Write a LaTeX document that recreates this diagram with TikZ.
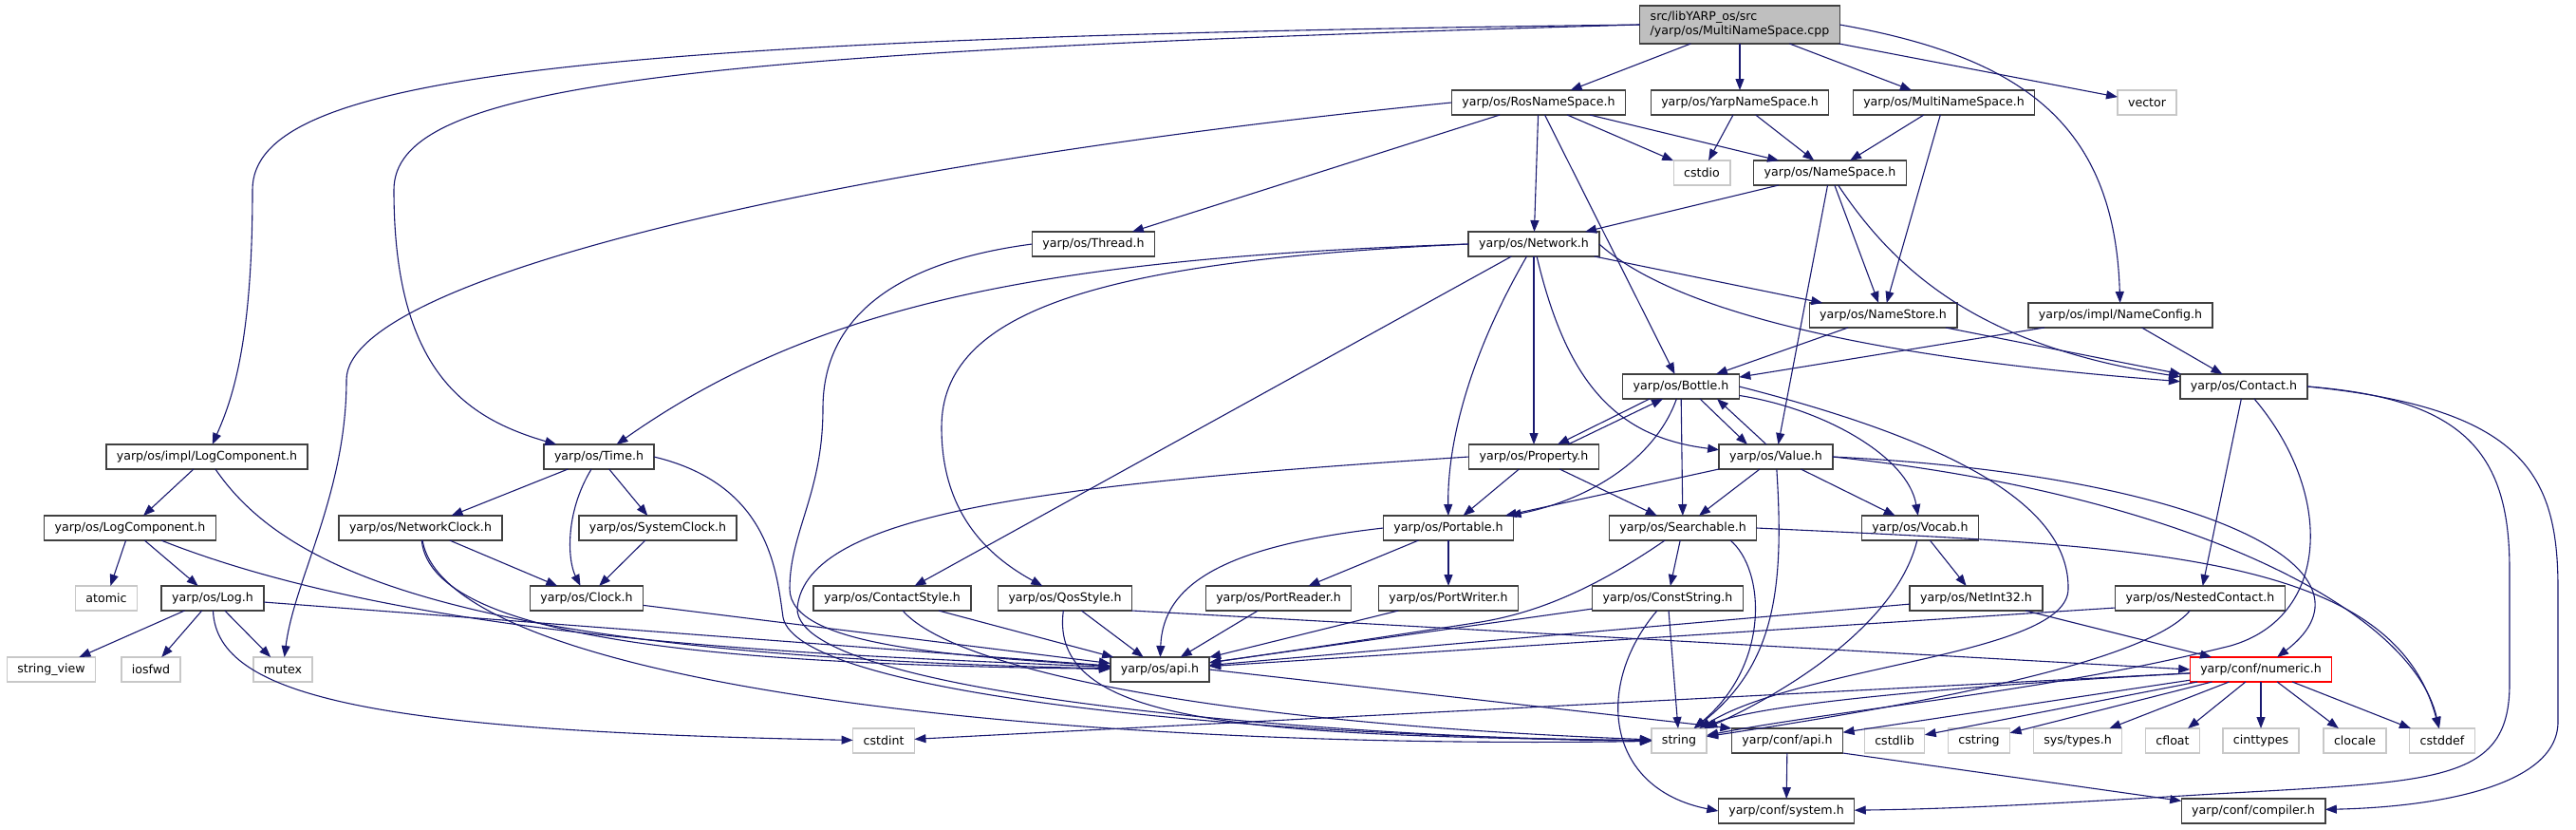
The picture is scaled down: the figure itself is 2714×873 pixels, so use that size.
\documentclass[tikz,border=0pt]{standalone}
\usepackage{fontspec}
\setmainfont{DejaVu Sans}
\usetikzlibrary{arrows.meta}
\definecolor{edgeblue}{RGB}{25,25,112}
\definecolor{rootgray}{RGB}{191,191,191}
\definecolor{framegray}{RGB}{64,64,64}
\definecolor{syslight}{RGB}{200,200,200}

\begin{document}
\begin{tikzpicture}[
    x=1pt, y=-1pt,
    font=\fontsize{12.6}{15}\selectfont,
    hdr/.style={draw=framegray, line width=1.4pt, fill=white, minimum height=26pt, inner xsep=11pt, inner ysep=2pt, outer sep=0pt},
    sys/.style={hdr, draw=syslight},
    rootbox/.style={hdr, fill=rootgray, align=left, minimum height=40pt},
    trunc/.style={hdr, draw=red},
    dep/.style={-{Triangle[length=12pt, width=9pt]}, edgeblue, line width=1.1pt}
]
    \path[use as bounding box, fill=white] (0,0) rectangle (2714,873);

    % source file
    \node[rootbox] (root) at (1833,26) {src/libYARP\_os/src\\/yarp/os/MultiNameSpace.cpp};

    % first level
    \node[hdr] (rosns) at (1621,108) {yarp/os/RosNameSpace.h};
    \node[hdr] (yarpns) at (1833,108) {yarp/os/YarpNameSpace.h};
    \node[hdr] (multins) at (2048,108) {yarp/os/MultiNameSpace.h};
    \node[sys] (vector) at (2262,108) {vector};
    \node[sys] (cstdio) at (1793,182) {cstdio};
    \node[hdr] (namespace) at (1928,182) {yarp/os/NameSpace.h};
    \node[hdr] (thread) at (1152,257) {yarp/os/Thread.h};
    \node[hdr] (network) at (1616,257) {yarp/os/Network.h};
    \node[hdr] (namestore) at (1984,332) {yarp/os/NameStore.h};
    \node[hdr] (nameconfig) at (2234,332) {yarp/os/impl/NameConfig.h};
    \node[hdr] (bottle) at (1771,407) {yarp/os/Bottle.h};
    \node[hdr] (contact) at (2364,407) {yarp/os/Contact.h};

    % middle rows
    \node[hdr] (impllog) at (218,481) {yarp/os/impl/LogComponent.h};
    \node[hdr] (timeh) at (631,481) {yarp/os/Time.h};
    \node[hdr] (property) at (1616,481) {yarp/os/Property.h};
    \node[hdr] (value) at (1871,481) {yarp/os/Value.h};
    \node[hdr] (logcomp) at (137,556) {yarp/os/LogComponent.h};
    \node[hdr] (netclock) at (443,556) {yarp/os/NetworkClock.h};
    \node[hdr] (sysclock) at (693,556) {yarp/os/SystemClock.h};
    \node[hdr] (portable) at (1526,556) {yarp/os/Portable.h};
    \node[hdr] (searchable) at (1773,556) {yarp/os/Searchable.h};
    \node[hdr] (vocab) at (2023,556) {yarp/os/Vocab.h};
    \node[sys] (atomic) at (112,630) {atomic};
    \node[hdr] (logh) at (224,630) {yarp/os/Log.h};
    \node[hdr] (clock) at (618,630) {yarp/os/Clock.h};
    \node[hdr] (contactstyle) at (940,630) {yarp/os/ContactStyle.h};
    \node[hdr] (qosstyle) at (1122,630) {yarp/os/QosStyle.h};
    \node[hdr] (portreader) at (1347,630) {yarp/os/PortReader.h};
    \node[hdr] (portwriter) at (1526,630) {yarp/os/PortWriter.h};
    \node[hdr] (conststring) at (1757,630) {yarp/os/ConstString.h};
    \node[hdr] (netint) at (2082,630) {yarp/os/NetInt32.h};
    \node[hdr] (nested) at (2318,630) {yarp/os/NestedContact.h};
    \node[sys] (stringview) at (54,705) {string\_view};
    \node[sys] (iosfwd) at (159,705) {iosfwd};
    \node[sys] (mutex) at (298,705) {mutex};
    \node[hdr] (osapi) at (1222,705) {yarp/os/api.h};
    \node[trunc] (numeric) at (2382,705) {yarp/conf/numeric.h};

    % bottom rows
    \node[sys] (cstdint) at (931,780) {cstdint};
    \node[sys] (string) at (1769,780) {string};
    \node[hdr] (confapi) at (1883,780) {yarp/conf/api.h};
    \node[sys] (cstdlib) at (1996,780) {cstdlib};
    \node[sys] (cstring) at (2085,780) {cstring};
    \node[sys] (systypes) at (2189,780) {sys/types.h};
    \node[sys] (cfloat) at (2289,780) {cfloat};
    \node[sys] (cinttypes) at (2382,780) {cinttypes};
    \node[sys] (clocale) at (2481,780) {clocale};
    \node[sys] (cstddef) at (2573,780) {cstddef};
    \node[hdr] (confsystem) at (1882,854) {yarp/conf/system.h};
    \node[hdr] (compiler) at (2374,854) {yarp/conf/compiler.h};

    % includes of the source file
    \draw[dep] (root.west) .. controls (600,40) and (266,80) .. (266,200) .. controls (266,360) and (245,420) .. (impllog);
    \draw[dep] (root.west) .. controls (700,55) and (415,90) .. (415,200) .. controls (415,390) and (490,440) .. (timeh);
    \draw[dep] (root) -- (rosns);
    \draw[dep] (root) -- (yarpns);
    \draw[dep] (root) -- (multins);
    \draw[dep] (root) -- (vector);
    \draw[dep] (root.east) .. controls (2130,60) and (2228,130) .. (nameconfig);

    % name spaces
    \draw[dep] (rosns.west) .. controls (900,170) and (365,290) .. (365,400) .. controls (365,520) and (310,610) .. (mutex);
    \draw[dep] (rosns) -- (thread);
    \draw[dep] (rosns) -- (network);
    \draw[dep] (rosns) -- (bottle);
    \draw[dep] (rosns) -- (cstdio);
    \draw[dep] (rosns) -- (namespace);
    \draw[dep] (yarpns) -- (cstdio);
    \draw[dep] (yarpns) -- (namespace);
    \draw[dep] (multins) -- (namespace);
    \draw[dep] (multins) -- (namestore);
    \draw[dep] (namespace) -- (network);
    \draw[dep] (namespace) -- (value);
    \draw[dep] (namespace) -- (namestore);
    \draw[dep] (namespace) .. controls (2000,290) and (2090,365) .. (contact);
    \draw[dep] (thread.west) .. controls (950,275) and (867,330) .. (867,430) .. controls (867,520) and (832,560) .. (832,620) .. controls (832,680) and (1000,690) .. (osapi);

    % network
    \draw[dep] (network.west) .. controls (1100,272) and (860,320) .. (timeh);
    \draw[dep] (network.west) .. controls (1150,275) and (992,330) .. (992,450) .. controls (992,540) and (1040,585) .. (qosstyle);
    \draw[dep] (network) -- (contactstyle);
    \draw[dep] (network) .. controls (1545,380) and (1525,470) .. (portable);
    \draw[dep] (network) -- (property);
    \draw[dep] (network) .. controls (1650,400) and (1700,460) .. (value);
    \draw[dep] (network) -- (namestore);
    \draw[dep] (network.east) .. controls (1800,360) and (2150,390) .. (contact);
    \draw[dep] (namestore) -- (bottle);
    \draw[dep] (namestore) -- (contact);
    \draw[dep] (nameconfig) -- (bottle);
    \draw[dep] (nameconfig) -- (contact);

    % bottle, property, value
    \draw[dep] ([xshift=-33pt]bottle.south) -- ([xshift=25pt]property.north);
    \draw[dep] ([xshift=36pt]property.north) -- ([xshift=-19pt]bottle.south);
    \draw[dep] ([xshift=20pt]bottle.south) -- ([xshift=-30pt]value.north);
    \draw[dep] ([xshift=-10pt]value.north) -- ([xshift=38pt]bottle.south);
    \draw[dep] (bottle) -- (searchable);
    \draw[dep] (bottle) .. controls (1745,480) and (1680,525) .. (portable);
    \draw[dep] (bottle) .. controls (1920,430) and (2010,480) .. (vocab);
    \draw[dep] (bottle.east) .. controls (2080,470) and (2180,540) .. (2179,620) .. controls (2179,690) and (1900,700) .. (string);
    \draw[dep] (property) -- (portable);
    \draw[dep] (property) -- (searchable);
    \draw[dep] (property.west) .. controls (1100,510) and (850,540) .. (840,640) .. controls (835,740) and (1500,780) .. (string);
    \draw[dep] (value) -- (portable);
    \draw[dep] (value) -- (searchable);
    \draw[dep] (value) -- (vocab);
    \draw[dep] (value) .. controls (1880,620) and (1870,700) .. (string);
    \draw[dep] (value.east) .. controls (2320,500) and (2520,600) .. (numeric);
    \draw[dep] (value.east) .. controls (2300,520) and (2540,640) .. (cstddef);

    % searchable, vocab
    \draw[dep] (searchable) -- (conststring);
    \draw[dep] (searchable) .. controls (1680,620) and (1620,645) .. (1560,655) .. controls (1450,672) and (1330,690) .. (osapi);
    \draw[dep] ([xshift=50pt]searchable.south) .. controls (1860,600) and (1865,700) .. (string);
    \draw[dep] (searchable.east) .. controls (2250,575) and (2520,580) .. (cstddef);
    \draw[dep] (conststring) -- (osapi);
    \draw[dep] (conststring) -- (string);
    \draw[dep] (conststring) .. controls (1680,720) and (1690,830) .. (confsystem.west);
    \draw[dep] (vocab) -- (netint);
    \draw[dep] (vocab) .. controls (2000,650) and (1900,720) .. (string);
    \draw[dep] (netint) -- (osapi);
    \draw[dep] (netint) -- (numeric);

    % portable and styles
    \draw[dep] (portable) -- (portreader);
    \draw[dep] (portable) -- (portwriter);
    \draw[dep] (portable.west) .. controls (1290,575) and (1225,615) .. (osapi);
    \draw[dep] (portreader) -- (osapi);
    \draw[dep] (portwriter) -- (osapi);
    \draw[dep] (qosstyle) -- (osapi);
    \draw[dep] (qosstyle) .. controls (1105,760) and (1300,775) .. (string);
    \draw[dep] (qosstyle.south east) -- (numeric.west);
    \draw[dep] (contactstyle) -- (osapi);
    \draw[dep] (contactstyle) .. controls (1000,700) and (1250,760) .. (string);

    % logging
    \draw[dep] (impllog) -- (logcomp);
    \draw[dep] (impllog) .. controls (300,600) and (480,690) .. (osapi);
    \draw[dep] (logcomp) -- (atomic);
    \draw[dep] (logcomp) -- (logh);
    \draw[dep] (logcomp) .. controls (450,680) and (900,690) .. (osapi);
    \draw[dep] (logh) -- (stringview);
    \draw[dep] (logh) -- (iosfwd);
    \draw[dep] (logh) -- (mutex);
    \draw[dep] (logh) .. controls (228,735) and (400,770) .. (cstdint);
    \draw[dep] (logh) -- (osapi);

    % clocks
    \draw[dep] (timeh) -- (netclock);
    \draw[dep] (timeh) .. controls (595,540) and (598,590) .. (clock);
    \draw[dep] (timeh) -- (sysclock);
    \draw[dep] (timeh.east) .. controls (810,510) and (818,600) .. (825,650) .. controls (840,730) and (1300,775) .. (string);
    \draw[dep] (netclock) -- (clock);
    \draw[dep] (netclock) .. controls (455,680) and (800,700) .. (osapi);
    \draw[dep] (netclock) .. controls (470,720) and (1100,790) .. (string);
    \draw[dep] (sysclock) -- (clock);
    \draw[dep] (clock) -- (osapi);

    % contact
    \draw[dep] (contact) -- (nested);
    \draw[dep] (contact) .. controls (2460,520) and (2455,650) .. (2350,680) .. controls (2150,730) and (1950,745) .. (string);
    \draw[dep] (contact.east) .. controls (2600,420) and (2644,480) .. (2644,600) -- (2644,720) .. controls (2644,830) and (2560,822) .. (2300,838) .. controls (2150,847) and (2050,852) .. (confsystem);
    \draw[dep] (contact.east) .. controls (2660,430) and (2695,500) .. (2695,620) -- (2695,760) .. controls (2695,830) and (2560,850) .. (compiler);
    \draw[dep] (nested) .. controls (2260,700) and (2000,745) .. (string);
    \draw[dep] ([yshift=-10pt]nested.west) -- (osapi);

    % numeric and conf
    \draw[dep] (numeric) -- (cstdint);
    \draw[dep] (numeric) .. controls (2100,720) and (1850,740) .. (string);
    \draw[dep] (numeric) -- (confapi);
    \draw[dep] (numeric) -- (cstdlib);
    \draw[dep] (numeric) -- (cstring);
    \draw[dep] (numeric) -- (systypes);
    \draw[dep] (numeric) -- (cfloat);
    \draw[dep] (numeric) -- (cinttypes);
    \draw[dep] (numeric) -- (clocale);
    \draw[dep] (numeric) -- (cstddef);
    \draw[dep] (confapi) -- (confsystem);
    \draw[dep] (confapi.south east) -- (compiler);
    \draw[dep] (osapi.east) -- (confapi.north west);
\end{tikzpicture}
\end{document}
